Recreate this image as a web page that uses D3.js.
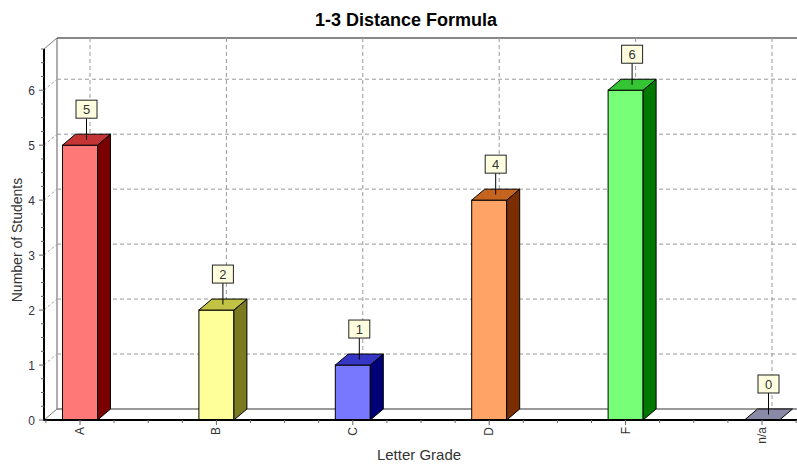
<!DOCTYPE html>
<html><head><meta charset="utf-8">
<script src="https://cdn.jsdelivr.net/npm/d3@7"></script>
<style>body{margin:0;background:#fff}svg{display:block}</style>
</head><body><svg id="c" width="797" height="468"></svg>
<script>
const categories = ["A","B","C","D","F","n/a"];
const values = [5,2,1,4,6,0];
const frontColors = ["#ff7878","#ffff99","#7878ff","#ffa366","#78ff78","#8a8aa8"];
const sideColors = ["#780000","#7a7a20","#000078","#7a2e00","#007800","#5a5a70"];
const topColors = ["#c43434","#c2c244","#3636c4","#c4641e","#34c434","#8a8aa8"];
const yTicks = [0,1,2,3,4,5,6];

const svg = d3.select("#c");
const W = 797;
const DX = 13, DY = -11;
const y = d3.scaleLinear().domain([0, 6.75]).range([420, 49]);
const x = d3.scalePoint().domain(categories).range([80, 762]);
const bw = 35;

// title
svg.append("text").attr("x", 406).attr("y", 26).attr("text-anchor","middle")
  .attr("font-family","Liberation Sans, Arial").attr("font-weight","bold").attr("font-size",18)
  .text("1-3 Distance Formula");

// back walls
const g = svg.append("g");
g.append("line").attr("x1",44+DX).attr("x2",W).attr("y1",y(6.75)+DY).attr("y2",y(6.75)+DY).attr("stroke","#888").attr("stroke-width",2);
g.append("line").attr("x1",44+DX).attr("x2",44+DX).attr("y1",y(6.75)+DY).attr("y2",y(0)+DY).attr("stroke","#777").attr("stroke-width",1.2);
g.append("line").attr("x1",44+DX).attr("x2",W).attr("y1",y(0)+DY).attr("y2",y(0)+DY).attr("stroke","#777").attr("stroke-width",1.5);
g.append("line").attr("x1",44).attr("x2",44+DX).attr("y1",y(6.75)).attr("y2",y(6.75)+DY).attr("stroke","#777");
g.append("line").attr("x1",44).attr("x2",44+DX).attr("y1",y(0)).attr("y2",y(0)+DY).attr("stroke","#777");

// horizontal gridlines
yTicks.filter(v=>v>0).forEach(v=>{
  g.append("line").attr("x1",44+DX).attr("x2",W).attr("y1",y(v)+DY).attr("y2",y(v)+DY)
    .attr("stroke","#999").attr("stroke-dasharray","4,3");
  g.append("line").attr("x1",44).attr("x2",44+DX).attr("y1",y(v)).attr("y2",y(v)+DY)
    .attr("stroke","#aaa").attr("stroke-dasharray","3,2");
});
// vertical gridlines
categories.forEach(c=>{
  g.append("line").attr("x1",x(c)+10).attr("x2",x(c)+10).attr("y1",y(6.75)+DY).attr("y2",y(0)+DY)
    .attr("stroke","#999").attr("stroke-dasharray","4,3");
});

// bars
const bars = svg.append("g");
categories.forEach((c,i)=>{
  const v = values[i];
  const x0 = x(c) - bw/2, x1 = x(c) + bw/2;
  const yt = y(v), yb = y(0);
  if (v > 0) {
    bars.append("rect").attr("x",x0).attr("y",yt).attr("width",bw).attr("height",yb-yt)
      .attr("fill",frontColors[i]).attr("stroke","#000").attr("stroke-width",1);
    bars.append("path").attr("d",`M${x1},${yt}L${x1+DX},${yt+DY}L${x1+DX},${yb+DY}L${x1},${yb}Z`)
      .attr("fill",sideColors[i]).attr("stroke","#000").attr("stroke-width",1);
  }
  bars.append("path").attr("d",`M${x0},${yt}L${x0+DX},${yt+DY}L${x1+DX},${yt+DY}L${x1},${yt}Z`)
    .attr("fill",topColors[i]).attr("stroke","#000").attr("stroke-width",1);
  // label
  const lx = x(c) + DX/2, ly = yt + DY/2;
  const by = yt - 45;
  bars.append("line").attr("x1",lx).attr("x2",lx).attr("y1",by+18).attr("y2",ly).attr("stroke","#000");
  bars.append("rect").attr("x",lx-10.5).attr("y",by).attr("width",21).attr("height",18)
    .attr("fill","#ffffe0").attr("stroke","#222").attr("stroke-width",1);
  bars.append("text").attr("x",lx).attr("y",by+14).attr("text-anchor","middle")
    .attr("font-family","Liberation Sans, Arial").attr("font-size",13).attr("fill","#333").text(v);
});

// axes front
const ax = svg.append("g");
ax.append("line").attr("x1",44).attr("x2",44).attr("y1",y(6.75)).attr("y2",y(0)+1).attr("stroke","#000").attr("stroke-width",2);
ax.append("line").attr("x1",43).attr("x2",W).attr("y1",y(0)).attr("y2",y(0)).attr("stroke","#000").attr("stroke-width",2);
d3.range(0, 6.76, 0.25).forEach(v=>{
  const major = Number.isInteger(v);
  ax.append("line").attr("x1",major?39:41).attr("x2",44).attr("y1",y(v)).attr("y2",y(v)).attr("stroke","#666");
});
yTicks.forEach(v=>{
  ax.append("text").attr("x",35).attr("y",y(v)+5).attr("text-anchor","end")
    .attr("font-family","Liberation Sans, Arial").attr("font-size",12).attr("fill","#334").text(v);
});
const step = x.step();
d3.range(-1, categories.length*4+1).forEach(k=>{
  const xx = x(categories[0]) + k*step/4;
  if (xx < 44 || xx > W) return;
  ax.append("line").attr("x1",xx).attr("x2",xx).attr("y1",y(0)).attr("y2",y(0)+(k%4===0?5:3)).attr("stroke","#666");
});
categories.forEach(c=>{
  ax.append("text").attr("transform",`translate(${x(c)+4},${427}) rotate(-90)`).attr("text-anchor","end")
    .attr("font-family","Liberation Sans, Arial").attr("font-size",12).attr("fill","#333").text(c);
});
svg.append("text").attr("x",419).attr("y",460).attr("text-anchor","middle")
  .attr("font-family","Liberation Sans, Arial").attr("font-size",15).attr("fill","#333").text("Letter Grade");
svg.append("text").attr("transform","translate(22,240) rotate(-90)").attr("text-anchor","middle")
  .attr("font-family","Liberation Sans, Arial").attr("font-size",14).attr("fill","#333").text("Number of Students");
</script></body></html>
